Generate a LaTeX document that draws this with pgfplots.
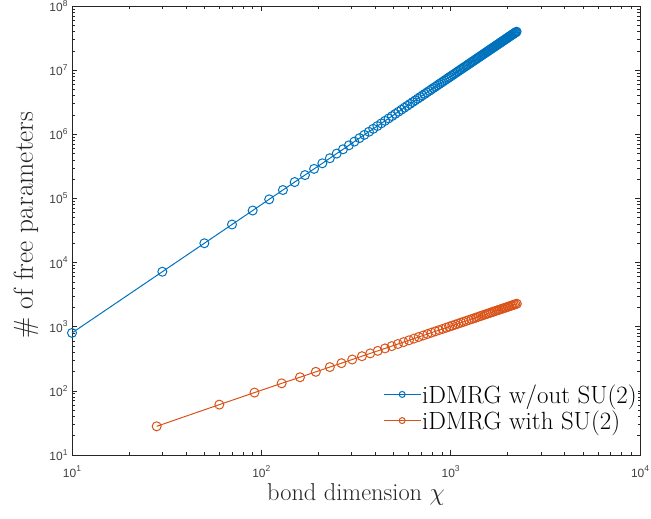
\documentclass[border=0pt]{standalone}
\usepackage{fontspec}
\newfontfamily\ticksans{Liberation Sans}
\usepackage{pgfplots}
\usepackage{pgfplotstable}
\pgfplotsset{compat=1.18}
\definecolor{mblue}{HTML}{0072BD}
\definecolor{morange}{HTML}{D95319}
\definecolor{axgray}{HTML}{262626}
\definecolor{tickgray}{HTML}{404040}

% iDMRG without SU(2): bond dimension vs number of free parameters
\pgfplotstableread{
chi n
10 800
30 7200
50 20000
70 39200
90 64800
110 96800
130 135200
150 180000
170 231200
190 288800
210 352800
230 423200
250 500000
270 583200
290 672800
310 768800
330 871200
350 980000
370 1095200
390 1216800
410 1344800
430 1479200
450 1620000
470 1767200
490 1920800
510 2080800
530 2247200
550 2420000
570 2599200
590 2784800
610 2976800
630 3175200
650 3380000
670 3591200
690 3808800
710 4032800
730 4263200
750 4500000
770 4743200
790 4992800
810 5248800
830 5511200
850 5780000
870 6055200
890 6336800
910 6624800
930 6919200
950 7220000
970 7527200
990 7840800
1010 8160800
1030 8487200
1050 8820000
1070 9159200
1090 9504800
1110 9856800
1130 10215200
1150 10580000
1170 10951200
1190 11328800
1210 11712800
1230 12103200
1250 12500000
1270 12903200
1290 13312800
1310 13728800
1330 14151200
1350 14580000
1370 15015200
1390 15456800
1410 15904800
1430 16359200
1450 16820000
1470 17287200
1490 17760800
1510 18240800
1530 18727200
1550 19220000
1570 19719200
1590 20224800
1610 20736800
1630 21255200
1650 21780000
1670 22311200
1690 22848800
1710 23392800
1730 23943200
1750 24500000
1770 25063200
1790 25632800
1810 26208800
1830 26791200
1850 27380000
1870 27975200
1890 28576800
1910 29184800
1930 29799200
1950 30420000
1970 31047200
1990 31680800
2010 32320800
2030 32967200
2050 33620000
2070 34279200
2090 34944800
2110 35616800
2130 36295200
2150 36980000
2170 37671200
2190 38368800
2210 39072800
2230 39783200
}\wosu

% iDMRG with SU(2)
\pgfplotstableread{
chi n
28 28
60 61
92 94
128 131
160 163
194 198
230 235
265 270
302 308
340 347
376 384
412 420
450 459
488 498
526 537
564 575
602 614
640 653
678 692
716 730
754 769
792 808
830 847
868 885
906 924
944 963
982 1002
1020 1040
1058 1079
1096 1118
1134 1157
1172 1195
1210 1234
1248 1273
1286 1312
1324 1350
1362 1389
1400 1428
1438 1467
1476 1506
1514 1544
1552 1583
1590 1622
1628 1661
1666 1699
1704 1738
1742 1777
1780 1816
1818 1854
1856 1893
1894 1932
1932 1971
1970 2009
2008 2048
2046 2087
2084 2126
2122 2164
2160 2203
2198 2242
2236 2281
}\wisu

\newcommand{\tl}[1]{10\raisebox{0.45em}{\fontsize{8.5}{9}\selectfont #1}}

\begin{document}
\begin{tikzpicture}
  % page = 651 x 519 bp, axis box 568 x 449 bp
  \path[use as bounding box] (-72bp,-64bp) rectangle (579bp,455bp);
  \begin{axis}[
    scale only axis,
    width=568bp, height=449bp,
    xmode=log, ymode=log,
    xmin=10, xmax=10000, ymin=10, ymax=1e8,
    xtick={10,100,1000,10000},
    xticklabels={\tl{1},\tl{2},\tl{3},\tl{4}},
    ytick={10,100,1000,1e4,1e5,1e6,1e7,1e8},
    yticklabels={\tl{1},\tl{2},\tl{3},\tl{4},\tl{5},\tl{6},\tl{7},\tl{8}},
    ticklabel style={font=\fontsize{12}{14}\ticksans, text=tickgray},
    xticklabel style={anchor=base, yshift=-22bp},
    yticklabel style={anchor=east, xshift=-1bp},
    tick align=inside,
    major tick length=5.5bp, minor tick length=3bp,
    axis line style={draw=axgray, line width=0.8bp},
    every tick/.style={draw=axgray, line width=0.6bp},
    xlabel={bond dimension $\chi$},
    ylabel={\# of free parameters},
    xlabel style={font=\fontsize{24.5}{28}\selectfont, text=axgray,
                  at={(axis description cs:0.5,0)}, anchor=base, yshift=-45bp},
    ylabel style={font=\fontsize{27.5}{31}\selectfont, text=axgray,
                  at={(axis description cs:-0.0687,0.512)}, anchor=base},
    legend cell align=left,
    legend style={draw=none, fill=white, font=\fontsize{25}{28}\selectfont,
                  at={(rel axis cs:0.5475,0.16)}, anchor=north west,
                  inner sep=0bp, row sep=4bp, text=black,
                  nodes={inner sep=1bp}},
    legend image code/.code={
      \draw[#1, mark size=3bp, mark repeat=2, mark phase=2]
        plot coordinates {(0bp,0bp) (18.5bp,0bp) (37bp,0bp)};
    },
    clip=false,
  ]
    \addplot[color=mblue, line width=1bp, mark=o, mark size=4.5bp,
             mark options={line width=1bp}] table[x=chi, y=n] {\wosu};
    \addlegendentry{iDMRG w/out SU(2)}
    \addplot[color=morange, line width=1bp, mark=o, mark size=4.5bp,
             mark options={line width=1bp}] table[x=chi, y=n] {\wisu};
    \addlegendentry{iDMRG with SU(2)}
  \end{axis}
\end{tikzpicture}
\end{document}
